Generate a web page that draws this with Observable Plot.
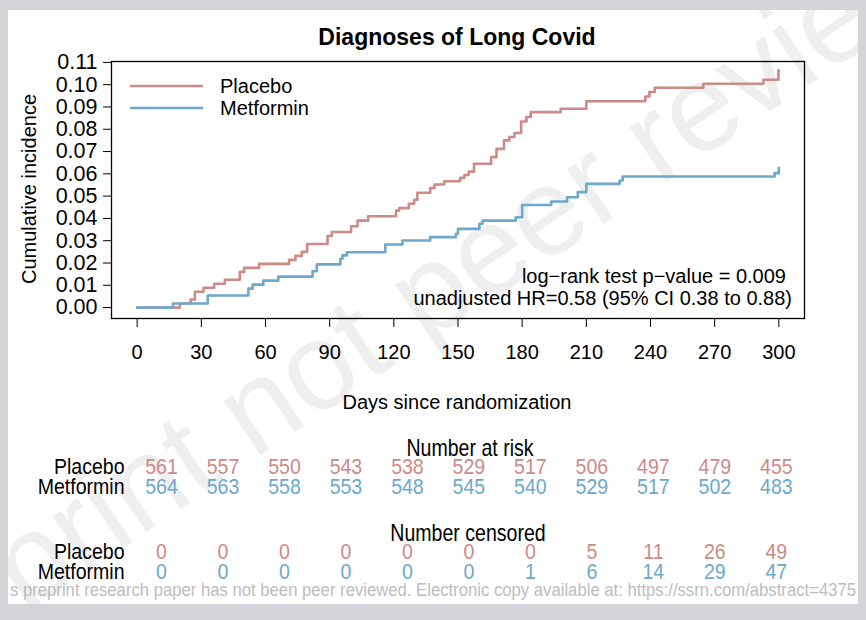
<!DOCTYPE html>
<html>
<head>
<meta charset="utf-8">
<script src="https://cdn.jsdelivr.net/npm/d3@7"></script>
<script src="https://cdn.jsdelivr.net/npm/@observablehq/plot@0.6"></script>
<style>
  html, body { margin: 0; padding: 0; }
  body { width: 866px; height: 620px; background: #d5d5d9; position: relative; overflow: hidden; font-family: "Liberation Sans", Arial, sans-serif; }
  #panel { position: absolute; left: 8px; top: 10px; width: 850px; height: 594px; background: #ffffff; }
  .layer { position: absolute; left: 0; top: 0; max-width: none !important; }
</style>
</head>
<body>
<div id="panel"></div>
<script>
// ---------- data ----------
const groups = ["Placebo", "Metformin"];
const colors = ["#cc8b86", "#6ea8cb"];

const placeboDays = [0, 20, 25, 27, 31, 36, 41, 48, 50, 57, 71, 74, 77, 79.5, 89, 91, 100, 103, 108, 121, 122.5, 127, 129.5, 131, 137, 139, 143.5, 151, 153, 155, 157.5, 165.5, 168, 171.5, 174, 176.4, 179.5, 182, 184, 198, 210, 237.6, 239.5, 242, 264.7, 292.8, 299.8, 300];
const placeboInc  = [0, 0.0018, 0.0036, 0.0071, 0.0089, 0.0107, 0.0125, 0.0160, 0.0178, 0.0196, 0.0214, 0.0232, 0.0250, 0.0285, 0.0321, 0.0339, 0.0365, 0.0390, 0.0410, 0.0435, 0.0446, 0.0466, 0.0484, 0.0515, 0.0536, 0.0552, 0.0567, 0.0582, 0.0595, 0.0610, 0.0645, 0.0675, 0.0712, 0.0750, 0.0765, 0.0783, 0.0835, 0.0855, 0.0877, 0.0892, 0.0926, 0.0947, 0.0967, 0.0986, 0.1004, 0.1022, 0.1064, 0.1064];

const metforminDays = [0, 16.7, 33, 52, 54, 59, 66, 82, 84, 95, 96, 98, 116, 124, 137, 149, 150, 160, 161.5, 177, 180, 193.6, 201, 206, 210, 225.6, 227, 298, 300];
const metforminInc  = [0, 0.0018, 0.0054, 0.0085, 0.0103, 0.0121, 0.0139, 0.0163, 0.0194, 0.0219, 0.0234, 0.0248, 0.0283, 0.0301, 0.0316, 0.0331, 0.0353, 0.0376, 0.0390, 0.0405, 0.0460, 0.0476, 0.0495, 0.0518, 0.0555, 0.0570, 0.0588, 0.0603, 0.0627];

const xTicks = [0, 30, 60, 90, 120, 150, 180, 210, 240, 270, 300];
const yTicks = [0, 0.01, 0.02, 0.03, 0.04, 0.05, 0.06, 0.07, 0.08, 0.09, 0.10, 0.11];

const atRiskPlacebo   = [561, 557, 550, 543, 538, 529, 517, 506, 497, 479, 455];
const atRiskMetformin = [564, 563, 558, 553, 548, 545, 540, 529, 517, 502, 483];
const censPlacebo     = [0, 0, 0, 0, 0, 0, 0, 5, 11, 26, 49];
const censMetformin   = [0, 0, 0, 0, 0, 0, 1, 6, 14, 29, 47];

// ---------- tables built from the arrays ----------
const curves = [
  ...placeboDays.map((d, i) => ({group: "Placebo", day: d, inc: placeboInc[i]})),
  ...metforminDays.map((d, i) => ({group: "Metformin", day: d, inc: metforminInc[i]}))
];
const riskRows = [
  ...xTicks.map((d, i) => ({group: "Placebo", day: d, n: atRiskPlacebo[i]})),
  ...xTicks.map((d, i) => ({group: "Metformin", day: d, n: atRiskMetformin[i]}))
];
const censRows = [
  ...xTicks.map((d, i) => ({group: "Placebo", day: d, n: censPlacebo[i]})),
  ...xTicks.map((d, i) => ({group: "Metformin", day: d, n: censMetformin[i]}))
];

const FONT = "'Liberation Sans', Arial, sans-serif";
const NS = "http://www.w3.org/2000/svg";
const SQ = 0.85; // horizontal squeeze of the risk-table text

function place(el, top) {
  el.classList.add("layer");
  el.style.left = "0px";
  el.style.top = top + "px";
  el.style.maxWidth = "none";
  document.body.appendChild(el);
}

// ---------- watermark (behind) ----------
const wm = document.createElementNS(NS, "svg");
wm.setAttribute("width", 866); wm.setAttribute("height", 620);
wm.innerHTML = `<defs><clipPath id="pc"><rect x="8" y="10" width="850" height="594"/></clipPath></defs>
  <g clip-path="url(#pc)"><text x="-135" y="722" transform="rotate(-34 -135 722)" font-family="${FONT}" font-size="124" fill="#efefef">Preprint not peer reviewed</text></g>`;
place(wm, 0);

// ---------- main chart ----------
const main = Plot.plot({
  width: 866, height: 420,
  marginLeft: 111, marginRight: 62, marginTop: 61, marginBottom: 102,
  style: {fontFamily: FONT, fontSize: "20px", background: "transparent", color: "black", overflow: "visible"},
  x: {domain: [-12, 312]},
  y: {domain: [-0.0049, 0.1104]},
  color: {domain: groups, range: colors},
  marks: [
    Plot.axisX({ticks: xTicks, tickSize: 9, tickPadding: 17, fontSize: 20, label: null, stroke: "black"}),
    Plot.axisY({ticks: yTicks, tickFormat: d3.format(".2f"), tickSize: 8, tickPadding: 6, fontSize: 21.5, label: null}),
    Plot.line(curves, {x: "day", y: "inc", z: "group", stroke: "group", curve: "step-after", strokeWidth: 2.6}),
    Plot.frame({stroke: "black", strokeWidth: 1.3})
  ]
});
place(main, 0);

// ---------- tables (drawn wide, then squeezed horizontally) ----------
function table(rows) {
  const svg = Plot.plot({
    width: 866 / SQ, height: 60,
    marginLeft: 161 / SQ, marginRight: 90 / SQ, marginTop: 0, marginBottom: 0,
    style: {fontFamily: FONT, fontSize: "23px", background: "transparent", color: "black", overflow: "visible"},
    x: {domain: [0, 300], range: [161 / SQ, 776 / SQ], axis: null},
    y: {type: "point", domain: groups, range: [26, 46], padding: 0},
    color: {domain: groups, range: colors},
    marks: [
      Plot.axisY({tickSize: 0, tickPadding: 37 / SQ, fontSize: 23, label: null}),
      Plot.text(rows, {x: "day", y: "group", text: "n", fill: "group", fontSize: 23})
    ]
  });
  svg.style.transformOrigin = "0 0";
  svg.style.transform = `scaleX(${SQ})`;
  return svg;
}
place(table(riskRows), 440);
place(table(censRows), 525);

// ---------- text overlay ----------
const ov = document.createElementNS(NS, "svg");
ov.setAttribute("width", 866); ov.setAttribute("height", 620);
ov.setAttribute("font-family", FONT);
ov.innerHTML = `
  <text x="457" y="45" text-anchor="middle" font-size="23" font-weight="bold">Diagnoses of Long Covid</text>
  <text transform="translate(36,189) rotate(-90)" text-anchor="middle" font-size="20">Cumulative incidence</text>
  <text x="457" y="409" text-anchor="middle" font-size="20">Days since randomization</text>
  <line x1="130" x2="203" y1="86" y2="86" stroke="${colors[0]}" stroke-width="2.6"/>
  <line x1="130" x2="203" y1="108" y2="108" stroke="${colors[1]}" stroke-width="2.6"/>
  <text x="220" y="93" font-size="20">Placebo</text>
  <text x="220" y="115" font-size="20">Metformin</text>
  <text x="786" y="283" text-anchor="end" font-size="20">log\u2212rank test p\u2212value = 0.009</text>
  <text x="792" y="305" text-anchor="end" font-size="20">unadjusted HR=0.58 (95% CI 0.38 to 0.88)</text>
  <text transform="translate(470,456) scale(${SQ},1)" text-anchor="middle" font-size="23">Number at risk</text>
  <text transform="translate(468,541) scale(${SQ},1)" text-anchor="middle" font-size="23">Number censored</text>
  <text x="10" y="596" font-size="19" fill="#bdbdbd" textLength="846" lengthAdjust="spacingAndGlyphs">s preprint research paper has not been peer reviewed. Electronic copy available at: https://ssrn.com/abstract=4375</text>
`;
place(ov, 0);
</script>
</body>
</html>
